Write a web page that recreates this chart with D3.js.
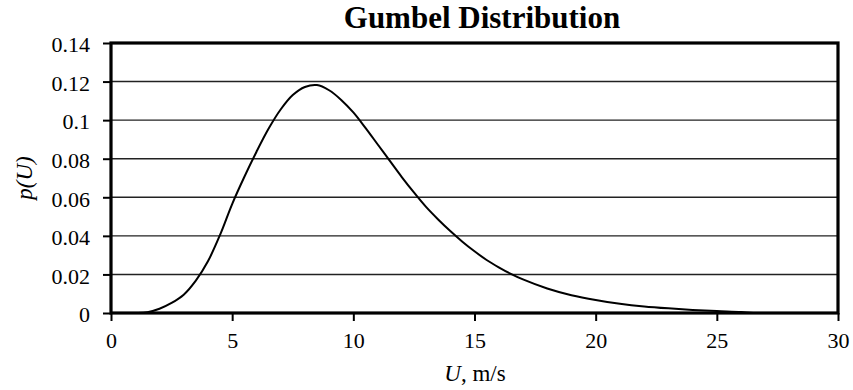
<!DOCTYPE html>
<html>
<head>
<meta charset="utf-8">
<script src="https://cdn.jsdelivr.net/npm/d3@7"></script>
<style>
  html, body { margin: 0; padding: 0; background: #fff; }
  svg { display: block; font-family: "Liberation Serif", "Times New Roman", serif; }
</style>
</head>
<body>
<svg id="chart" width="853" height="390"></svg>
<script>
// Wind speed U (m/s) and Gumbel probability density p(U)
const speeds = [0, 1, 1.5, 2, 2.5, 3, 3.5, 4, 4.5, 5, 5.5, 6, 6.5, 7, 7.5, 8, 8.5, 9, 9.5, 10,
  10.5, 11, 11.5, 12, 12.5, 13, 13.5, 14, 14.5, 15, 15.5, 16, 16.5, 17, 18, 19, 20,
  21, 22, 23, 24, 25, 26, 26.5];
const density = [0, 0, 0.0004, 0.0022, 0.0052, 0.0095, 0.0168, 0.0268, 0.0405, 0.0565, 0.0705,
  0.0835, 0.0955, 0.1055, 0.113, 0.1172, 0.1182, 0.1155, 0.1105, 0.104, 0.096, 0.0875,
  0.079, 0.0705, 0.0625, 0.055, 0.0485, 0.0425, 0.037, 0.032, 0.0275, 0.0237, 0.0203,
  0.0174, 0.0127, 0.0092, 0.0067, 0.0048, 0.0034, 0.0024, 0.0016, 0.001, 0.0005, 0];

const xTicks = [0, 5, 10, 15, 20, 25, 30];
const yTicks = [0, 0.02, 0.04, 0.06, 0.08, 0.1, 0.12, 0.14];

const chartTitle = "Gumbel Distribution";

const svg = d3.select("#chart");
const plot = { left: 111, right: 838, top: 43, bottom: 313 };

const x = d3.scaleLinear().domain([0, 30]).range([plot.left, plot.right]);
const y = d3.scaleLinear().domain([0, 0.14]).range([plot.bottom, plot.top]);

// horizontal gridlines
svg.append("g")
  .selectAll("line")
  .data(yTicks.filter(v => v > 0 && v < 0.14))
  .join("line")
  .attr("x1", plot.left).attr("x2", plot.right)
  .attr("y1", d => y(d)).attr("y2", d => y(d))
  .attr("stroke", "#222").attr("stroke-width", 1.4);

// y axis ticks and labels
const yAxis = svg.append("g")
  .attr("transform", `translate(${plot.left},0)`)
  .call(d3.axisLeft(y).tickValues(yTicks).tickSize(8).tickPadding(13)
    .tickFormat(d => d === 0 ? "0" : String(+d.toFixed(2))));
yAxis.select(".domain").remove();
yAxis.selectAll(".tick line").attr("stroke", "#000").attr("stroke-width", 2);
yAxis.selectAll(".tick text")
  .attr("font-size", 22).attr("fill", "#000")
  .attr("font-family", "Liberation Serif, serif")
  .attr("dy", "0.4em");

// x axis ticks and labels
const xAxis = svg.append("g")
  .attr("transform", `translate(0,${plot.bottom})`)
  .call(d3.axisBottom(x).tickValues(xTicks).tickSize(8).tickPadding(11)
    .tickFormat(d3.format("d")));
xAxis.select(".domain").remove();
xAxis.selectAll(".tick line").attr("stroke", "#000").attr("stroke-width", 2);
xAxis.selectAll(".tick text")
  .attr("font-size", 22).attr("fill", "#000")
  .attr("font-family", "Liberation Serif, serif");

// density curve
const line = d3.line()
  .x((d, i) => x(speeds[i]))
  .y(d => y(d))
  .curve(d3.curveCatmullRom.alpha(0.5));

svg.append("path")
  .datum(density)
  .attr("d", line)
  .attr("fill", "none")
  .attr("stroke", "#000")
  .attr("stroke-width", 2);

// plot frame
svg.append("rect")
  .attr("x", plot.left).attr("y", plot.top)
  .attr("width", plot.right - plot.left)
  .attr("height", plot.bottom - plot.top)
  .attr("fill", "none")
  .attr("stroke", "#000")
  .attr("stroke-width", 3.2);

// title
svg.append("text")
  .attr("x", 482).attr("y", 28)
  .attr("text-anchor", "middle")
  .attr("font-size", 31).attr("font-weight", "bold")
  .text(chartTitle);

// x axis label
const xl = svg.append("text")
  .attr("x", 475).attr("y", 381)
  .attr("text-anchor", "middle")
  .attr("font-size", 23);
xl.append("tspan").attr("font-style", "italic").text("U");
xl.append("tspan").text(", m/s");

// y axis label
svg.append("text")
  .attr("transform", "translate(32,178) rotate(-90)")
  .attr("text-anchor", "middle")
  .attr("font-size", 23)
  .attr("font-style", "italic")
  .text("p(U)");
</script>
</body>
</html>
